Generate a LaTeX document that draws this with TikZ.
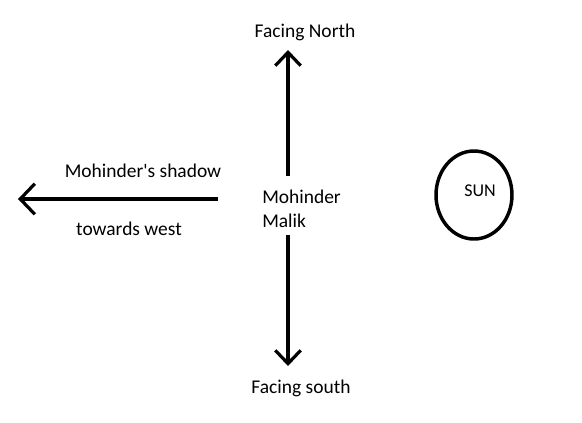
\documentclass[tikz,border=0pt]{standalone}
\usepackage{fontspec}
\setmainfont{Carlito}
\usetikzlibrary{arrows.meta, shapes.geometric}

\begin{document}
\begin{tikzpicture}[
  x=0.75pt, y=-0.75pt,
  label/.style={font=\fontsize{14.6}{18}\selectfont, inner sep=0pt, align=left},
  dirarrow/.style={line width=2.6pt, -{Straight Barb[length=10pt, width=19pt, line width=2.4pt]}},
  sunnode/.style={draw, line width=2.6pt, ellipse, minimum width=57pt, minimum height=66pt}
]
\useasboundingbox (0,0) rectangle (582,422);

% ---- texts ----
\node[label] (north)  at (305, 32)  {Facing North};
\node[label] (south)  at (301, 388) {Facing south};
\node[label, anchor=west] (malik) at (262, 209) {Mohinder\\Malik};
\node[label] (shadow) at (143, 171) {Mohinder\textquotesingle s shadow};
\node[label] (west)   at (129, 229) {towards west};

% ---- sun ----
\node[sunnode] (sun) at (474, 195) {};
\node[label, font=\fontsize{13.5}{16}\selectfont] (suntext) at (480, 191) {SUN};

% ---- arrow ends ----
\coordinate (ntail) at (288, 176);
\coordinate (nhead) at (288, 50);
\coordinate (stail) at (288, 235);
\coordinate (shead) at (288, 366);
\coordinate (wtail) at (218, 199);
\coordinate (whead) at (18, 199);

% ---- arrows ----
\draw[dirarrow] (ntail) -- (nhead);
\draw[dirarrow] (stail) -- (shead);
\draw[dirarrow, -{Straight Barb[length=11pt, width=23pt, line width=2.4pt]}] (wtail) -- (whead);

\end{tikzpicture}
\end{document}
